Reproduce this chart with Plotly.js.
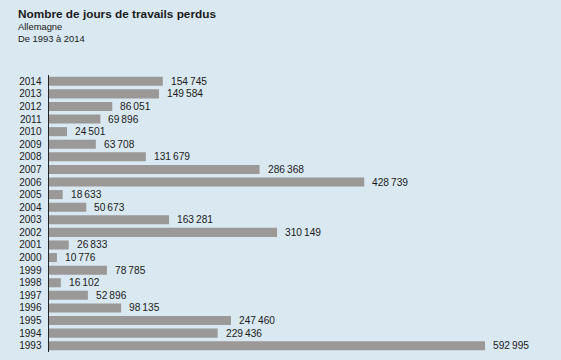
<!DOCTYPE html>
<html><head><meta charset="utf-8">
<script src="https://cdn.plot.ly/plotly-3.0.1.min.js"></script>
<style>html,body{margin:0;padding:0;background:#d9e8f1;}#chart{width:561px;height:360px;}</style>
</head><body><div id="chart"></div>
<script>
const years = ["1993","1994","1995","1996","1997","1998","1999","2000","2001","2002","2003","2004","2005","2006","2007","2008","2009","2010","2011","2012","2013","2014"];
const days = [592995,229436,247460,98135,52896,16102,78785,10776,26833,310149,163281,50673,18633,428739,286368,131679,63708,24501,69896,86051,149584,154745];
const titleText = "Nombre de jours de travails perdus";
const subtitle1 = "Allemagne";
const subtitle2 = "De 1993 à 2014";

function fmt(v){ return String(v).replace(/\B(?=(\d{3})+(?!\d))/g, "\u2009"); }
const FONT = 'Liberation Sans, Arial, sans-serif';

const annotations = years.map((y,i)=>({
  x: days[i], y: i, xref:'x', yref:'y', text: fmt(days[i]), showarrow:false,
  xanchor:'left', yanchor:'middle', xshift:6,
  font:{family:FONT, size:10.2, color:'#1a1a1a'}
}));
annotations.push(
  {xref:'paper', yref:'paper', x:0, y:1, xanchor:'left', yanchor:'bottom', text:'<b>'+titleText+'</b>', showarrow:false, xshift:-33, yshift:52.5, font:{family:FONT, size:11.8, color:'#1a1a1a'}},
  {xref:'paper', yref:'paper', x:0, y:1, xanchor:'left', yanchor:'bottom', text:subtitle1, showarrow:false, xshift:-33, yshift:41.5, font:{family:FONT, size:9.4, color:'#1a1a1a'}},
  {xref:'paper', yref:'paper', x:0, y:1, xanchor:'left', yanchor:'bottom', text:subtitle2, showarrow:false, xshift:-33, yshift:29.5, font:{family:FONT, size:9.4, color:'#1a1a1a'}}
);

Plotly.newPlot('chart', [{
  type:'bar', orientation:'h', x: days, y: years,
  marker:{color:'#9a9998', line:{width:0}}, hoverinfo:'none'
}], {
  width:561, height:360,
  paper_bgcolor:'#d9e8f1', plot_bgcolor:'#d9e8f1',
  margin:{l:49, r:10, t:75, b:8},
  bargap:0.28,
  showlegend:false,
  xaxis:{range:[0,682750], showgrid:false, zeroline:false, showticklabels:false, showline:false, fixedrange:true},
  yaxis:{type:'category', categoryorder:'array', categoryarray:years, range:[-0.5,21.5],
    showgrid:false, zeroline:false, showline:true, linecolor:'#222', linewidth:1.5,
    ticks:'', ticklabelstandoff:4,
    tickfont:{family:FONT, size:10, color:'#1a1a1a'}},
  annotations: annotations
}, {staticPlot:true, displayModeBar:false});
</script></body></html>
